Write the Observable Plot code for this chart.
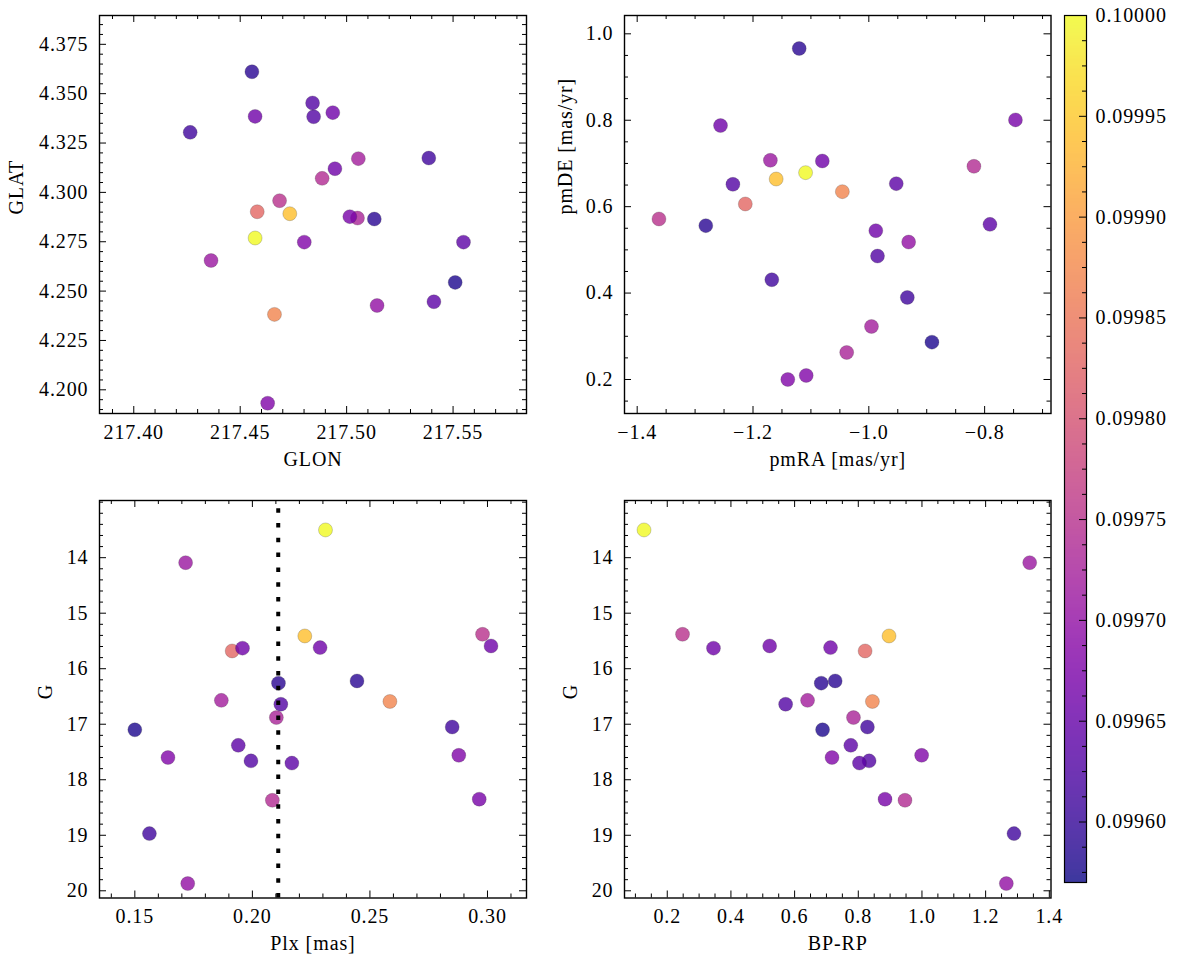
<!DOCTYPE html>
<html>
<head>
<meta charset="utf-8">
<script src="https://cdn.jsdelivr.net/npm/d3@7"></script>
<script src="https://cdn.jsdelivr.net/npm/@observablehq/plot@0.6"></script>
<style>
html, body { margin: 0; padding: 0; background: #fff; }
#fig { position: relative; width: 1177px; height: 965px; overflow: hidden; background: #fff; }
#fig > svg { position: absolute; }
#fig svg, #fig svg * { font-family: "Liberation Serif", "DejaVu Serif", serif !important; }
#fig svg text { letter-spacing: 0.9px; }
</style>
</head>
<body>
<div id="fig"></div>
<script>
// ---- data: one entry per star ----
const glon = [217.457, 217.4733, 217.4661, 217.458, 217.4685, 217.4885, 217.5051, 217.5055, 217.4363, 217.5143,
              217.551, 217.4555, 217.513, 217.4265, 217.5386, 217.4845, 217.484, 217.5549, 217.541, 217.457,
              217.4935, 217.4945, 217.5015, 217.4801, 217.4629];
const glat = [4.2769, 4.2892, 4.2382, 4.2902, 4.2958, 4.3071, 4.2870, 4.3171, 4.2655, 4.2427,
              4.2544, 4.3611, 4.2865, 4.3304, 4.3174, 4.3383, 4.3453, 4.2748, 4.2446, 4.3385,
              4.3404, 4.3120, 4.2877, 4.2748, 4.1932];
const pmra = [-1.1092, -1.160, -1.0457, -1.2133, -1.3624, -0.8185, -1.0382, -0.9954, -1.170, -0.9312,
              -0.891, -1.1202, -1.2815, -1.1675, -0.9335, -0.985, -1.2347, -0.9526, -0.7908, -1.2561,
              -1.0803, -0.9879, -0.7468, -1.1399, -1.1081];
const pmde = [0.6787, 0.664, 0.6347, 0.6062, 0.5715, 0.6934, 0.2625, 0.3227, 0.7073, 0.5181,
              0.2864, 0.966, 0.556, 0.4309, 0.3899, 0.4857, 0.6517, 0.6532, 0.559, 0.7877,
              0.7057, 0.5444, 0.8008, 0.200, 0.2093];
const plx  = [0.2311, 0.2223, 0.2585, 0.1914, 0.2979, 0.2085, 0.2102, 0.1868, 0.1716, 0.1725,
              0.150, 0.2445, 0.2111, 0.1562, 0.285, 0.1994, 0.2121, 0.194, 0.2168, 0.1958,
              0.2288, 0.3015, 0.2965, 0.1641, 0.2878];
const gmag = [13.50, 15.41, 16.59, 15.68, 15.38, 18.37, 16.88, 16.57, 14.09, 19.87,
              17.10, 16.22, 16.26, 18.97, 17.05, 17.66, 16.64, 17.38, 17.70, 15.63,
              15.62, 15.59, 18.35, 17.60, 17.56];
const bprp = [0.127, 0.8966, 0.8444, 0.8214, 0.248, 0.9467, 0.7849, 0.6407, 1.3384, 1.265,
              0.6878, 0.7274, 0.6836, 1.289, 0.8287, 0.834, 0.5718, 0.7765, 0.8037, 0.3452,
              0.7128, 0.5217, 0.884, 0.7175, 0.999];
const prob = [0.1, 0.09994, 0.09987, 0.09983, 0.09975, 0.09974, 0.09973, 0.09972, 0.09971, 0.09970,
              0.09958, 0.09959, 0.09959, 0.09961, 0.09961, 0.09963, 0.09963, 0.09964, 0.09964, 0.09966,
              0.09966, 0.09966, 0.09967, 0.09968, 0.09968];
const plxLine = 0.211;

// ---- axes: domains and tick labels ----
const probDomain = [0.09957, 0.1];
const glonTicks = [217.40, 217.45, 217.50, 217.55];
const glatTicks = [4.200, 4.225, 4.250, 4.275, 4.300, 4.325, 4.350, 4.375];
const pmraTicks = [-1.4, -1.2, -1.0, -0.8];
const pmdeTicks = [0.2, 0.4, 0.6, 0.8, 1.0];
const plxTicks = [0.15, 0.20, 0.25, 0.30];
const gTicks = [14, 15, 16, 17, 18, 19, 20];
const bprpTicks = [0.2, 0.4, 0.6, 0.8, 1.0, 1.2, 1.4];
const probTicks = [0.0996, 0.09965, 0.0997, 0.09975, 0.0998, 0.09985, 0.0999, 0.09995, 0.1];

const FONT = "Liberation Serif, DejaVu Serif, serif";
const colorScale = {type: "linear", scheme: "plasma", domain: probDomain};
const idx = d3.range(prob.length);

function minorTicks(lo, hi, step, majors) {
  const out = [];
  const a = Math.min(lo, hi), b = Math.max(lo, hi);
  const n0 = Math.ceil(a / step - 1e-6), n1 = Math.floor(b / step + 1e-6);
  for (let i = n0; i <= n1; i++) {
    const v = +(i * step).toFixed(10);
    if (!majors.some(m => Math.abs(m - v) < step * 1e-3)) out.push(v);
  }
  return out;
}

function panel(o) {
  const [ml, mt, mr, mb] = o.margins;
  const fw = o.width - ml - mr, fh = o.height - mt - mb;
  const a = Math.min(...o.xDomain), b = Math.max(...o.xDomain);
  const c = Math.min(...o.yDomain), d = Math.max(...o.yDomain);
  const xMaj = o.xMajor.filter(v => v >= a - 1e-9 && v <= b + 1e-9);
  const yMaj = o.yMajor.filter(v => v >= c - 1e-9 && v <= d + 1e-9);
  const xMin = minorTicks(a, b, o.xMinorStep, xMaj);
  const yMin = minorTicks(c, d, o.yMinorStep, yMaj);
  const tick = {stroke: "black", strokeWidth: 1};
  return Plot.plot({
    width: o.width, height: o.height,
    marginLeft: ml, marginTop: mt, marginRight: mr, marginBottom: mb,
    style: {fontFamily: FONT, fontSize: "20px", color: "black", background: "transparent", overflow: "visible"},
    x: {domain: o.xDomain},
    y: {domain: o.yDomain, reverse: !!o.yReverse},
    color: colorScale,
    marks: [
      Plot.dot(idx, {x: i => o.xv[i], y: i => o.yv[i], fill: i => prob[i], r: 7,
                     fillOpacity: 0.8, stroke: "#333", strokeOpacity: 0.45, strokeWidth: 0.5}),
      ...(o.extra || []),
      Plot.ruleX(xMaj, {x: v => v, insetTop: fh - 7, ...tick}),
      Plot.ruleX(xMaj, {x: v => v, insetBottom: fh - 7, ...tick}),
      Plot.ruleX(xMin, {x: v => v, insetTop: fh - 4, ...tick}),
      Plot.ruleX(xMin, {x: v => v, insetBottom: fh - 4, ...tick}),
      Plot.ruleY(yMaj, {y: v => v, insetRight: fw - 7, ...tick}),
      Plot.ruleY(yMaj, {y: v => v, insetLeft: fw - 7, ...tick}),
      Plot.ruleY(yMin, {y: v => v, insetRight: fw - 4, ...tick}),
      Plot.ruleY(yMin, {y: v => v, insetLeft: fw - 4, ...tick}),
      Plot.frame({stroke: "black", strokeWidth: 1.4}),
      Plot.axisX({ticks: xMaj, tickSize: 0, tickPadding: 11, tickFormat: o.xFmt, label: null}),
      Plot.axisY({ticks: yMaj, tickSize: 0, tickPadding: 11, tickFormat: o.yFmt, label: null}),
      Plot.text([o.xLabel], {text: t => t, frameAnchor: "bottom", dy: 46, lineAnchor: "middle"}),
      Plot.text([o.yLabel], {text: t => t, frameAnchor: "left", dx: o.yLabelDx, rotate: -90, lineAnchor: "middle"})
    ]
  });
}

const fig = document.getElementById("fig");
function place(svg, left, top) {
  svg.style.left = left + "px";
  svg.style.top = top + "px";
  fig.appendChild(svg);
}

const gDomain = [12.97, 20.13];

place(panel({
  xv: glon, yv: glat, xDomain: [217.3839, 217.5845], yDomain: [4.188, 4.3896],
  xMajor: glonTicks, xMinorStep: 0.01, yMajor: glatTicks, yMinorStep: 0.005,
  xFmt: d3.format(".2f"), yFmt: d3.format(".3f"), xLabel: "GLON", yLabel: "GLAT", yLabelDx: -83,
  width: 545, height: 480, margins: [99, 15, 19, 67]
}), 0, 0);

place(panel({
  xv: pmra, yv: pmde, xDomain: [-1.4219, -0.6854], yDomain: [0.1213, 1.0424],
  xMajor: pmraTicks, xMinorStep: 0.05, yMajor: pmdeTicks, yMinorStep: 0.05,
  xFmt: d3.format(".1f"), yFmt: d3.format(".1f"), xLabel: "pmRA [mas/yr]", yLabel: "pmDE [mas/yr]", yLabelDx: -59,
  width: 520, height: 480, margins: [79, 15, 14.5, 67]
}), 545, 0);

place(panel({
  xv: plx, yv: gmag, xDomain: [0.13497, 0.3166], yDomain: gDomain, yReverse: true,
  xMajor: plxTicks, xMinorStep: 0.01, yMajor: gTicks, yMinorStep: 0.2,
  xFmt: d3.format(".2f"), yFmt: d3.format("d"), xLabel: "Plx [mas]", yLabel: "G", yLabelDx: -54,
  width: 545, height: 485, margins: [99, 20, 19, 67.5],
  extra: [Plot.ruleX([plxLine], {x: v => v, y1: gDomain[1], y2: gDomain[0], stroke: "black",
                                 strokeWidth: 4, strokeDasharray: "4.5,10.3"})]
}), 0, 480);

place(panel({
  xv: bprp, yv: gmag, xDomain: [0.0657, 1.4053], yDomain: gDomain, yReverse: true,
  xMajor: bprpTicks, xMinorStep: 0.05, yMajor: gTicks, yMinorStep: 0.2,
  xFmt: d3.format(".1f"), yFmt: d3.format("d"), xLabel: "BP-RP", yLabel: "G", yLabelDx: -54,
  width: 520, height: 485, margins: [79, 20, 14.5, 67.5]
}), 545, 480);

// ---- colorbar ----
(function () {
  const W = 127, H = 900, ml = 14, mr = 91, mt = 15, mb = 18;
  const fw = W - ml - mr;
  const cbMinor = minorTicks(probDomain[0], probDomain[1], 0.0000125, probTicks);
  const tick = {stroke: "black", strokeWidth: 1};
  const svg = Plot.plot({
    width: W, height: H, marginLeft: ml, marginRight: mr, marginTop: mt, marginBottom: mb,
    style: {fontFamily: FONT, fontSize: "20px", color: "black", background: "transparent", overflow: "visible"},
    x: {domain: [0, 1], axis: null},
    y: {domain: probDomain},
    color: colorScale,
    marks: [
      Plot.raster({fill: (x, y) => y, x1: 0, x2: 1, y1: probDomain[0], y2: probDomain[1],
                   width: 2, height: 600, opacity: 0.8, imageRendering: "auto"}),
      Plot.ruleY(probTicks, {y: v => v, insetLeft: fw - 7, ...tick}),
      Plot.ruleY(cbMinor, {y: v => v, insetLeft: fw - 4, ...tick}),
      Plot.frame({stroke: "black", strokeWidth: 1.2}),
      Plot.axisY({anchor: "right", ticks: probTicks, tickSize: 0, tickPadding: 9,
                  tickFormat: d3.format(".5f"), label: null})
    ]
  });
  place(svg, 1050, 0);
})();
</script>
</body>
</html>
